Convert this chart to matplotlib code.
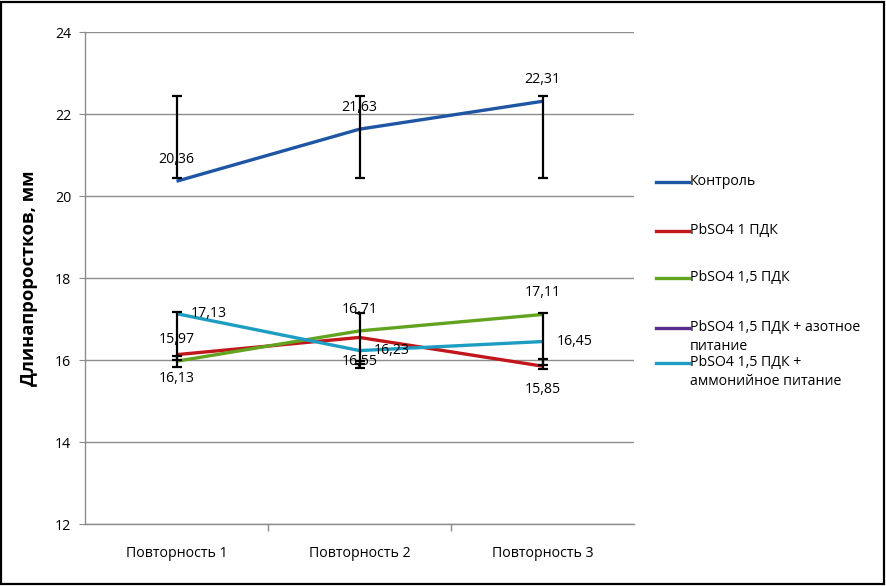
import matplotlib
matplotlib.use("Agg")
import matplotlib.pyplot as plt
from matplotlib.lines import Line2D
from matplotlib.patches import Rectangle
import numpy as np

plt.rcParams['font.family'] = ['Open Sans', 'DejaVu Sans']

categories = ["Повторность 1", "Повторность 2", "Повторность 3"]
series_names = ["Контроль", "PbSO4 1 ПДК", "PbSO4 1,5 ПДК",
                "PbSO4 1,5 ПДК + азотное\nпитание",
                "PbSO4 1,5 ПДК +\nаммонийное питание"]
control = [20.36, 21.63, 22.31]
pb1 = [16.13, 16.55, 15.85]
pb15 = [15.97, 16.71, 17.11]
pb15_n = []  # not visible on the chart
pb15_nh4 = [17.13, 16.23, 16.45]

control_err_low = [20.45, 20.45, 20.45]
control_err_high = [22.44, 22.44, 22.44]
group_err_low = [15.82, 15.80, 15.78]
group_err_high = [17.17, 17.15, 17.14]
group_err2_low = [16.00, 15.90, 15.88]
group_err2_high = [16.10, 15.98, 16.02]

colors = ["#1F56A4", "#C2161B", "#62A320", "#5A2D8C", "#1E9DC2"]

FS = 10.2

fig = plt.figure(figsize=(8.86, 5.86), dpi=100)
W, H = 886, 586
ax = fig.add_axes([85 / W, 1 - 524 / H, (634 - 85) / W, (524 - 32) / H])

x = np.arange(len(categories))

def errbars(vals_low, vals_high):
    lo = np.array(vals_low); hi = np.array(vals_high)
    mid = (lo + hi) / 2
    ax.errorbar(x, mid, yerr=[mid - lo, hi - mid], fmt='none', ecolor='black',
                elinewidth=1.6, capsize=3.5, capthick=1.6, zorder=4)

errbars(control_err_low, control_err_high)
errbars(group_err_low, group_err_high)
errbars(group_err2_low, group_err2_high)

data = [control, pb1, pb15, pb15_n, pb15_nh4]
for vals, c, name in zip(data, colors, series_names):
    if len(vals):
        ax.plot(x[:len(vals)], vals, color=c, lw=2.4, zorder=3, solid_capstyle='butt')

def fmt(v):
    return f"{v:.2f}".replace('.', ',')

label_specs = [
    (control, 'above'), (pb1, 'below'), (pb15, 'above'), (pb15_nh4, 'right')
]
for vals, pos in label_specs:
    for xi, v in zip(x, vals):
        if pos == 'above':
            ax.annotate(fmt(v), (xi, v), xytext=(0, 15.5), textcoords='offset points',
                        ha='center', va='center', fontsize=FS, zorder=5)
        elif pos == 'below':
            ax.annotate(fmt(v), (xi, v), xytext=(0, -17), textcoords='offset points',
                        ha='center', va='center', fontsize=FS, zorder=5)
        else:
            ax.annotate(fmt(v), (xi, v), xytext=(10, 0), textcoords='offset points',
                        ha='left', va='center', fontsize=FS, zorder=5)

ax.set_xlim(-0.5, 2.5)
ax.set_ylim(12, 24)
ax.set_yticks(np.arange(12, 25, 2))
ax.set_xticks(x)
ax.set_xticklabels(categories, fontsize=FS)
ax.set_xticks([0.5, 1.5], minor=True)
ax.tick_params(axis='x', which='major', length=0, pad=16)
ax.tick_params(axis='x', which='minor', length=5, color='#8c8c8c', width=1)
ax.tick_params(axis='y', length=4, color='#8c8c8c', labelsize=FS, pad=6)
ax.grid(axis='y', color='#8c8c8c', lw=1)
ax.set_axisbelow(True)
for s in ['top', 'right']:
    ax.spines[s].set_visible(False)
for s in ['left', 'bottom']:
    ax.spines[s].set_color('#8c8c8c')
    ax.spines[s].set_linewidth(1)
ax.set_ylabel("Длинапроростков, мм", fontsize=13.2, fontweight='bold', labelpad=12)

legend_y = [182, 231, 278, 328, 363]
for name, c, ly in zip(series_names, colors, legend_y):
    fy = 1 - ly / H
    fig.add_artist(Line2D([656 / W, 689 / W], [fy, fy], color=c, lw=2.4))
    fig.text(690 / W, 1 - (ly - 8) / H, name, fontsize=FS, ha='left', va='top',
             linespacing=1.35)

fig.add_artist(Rectangle((1 / W, 2 / H), (W - 3) / W, (H - 4) / H, transform=fig.transFigure,
                         fill=False, edgecolor='black', lw=1.6))

fig.savefig("out.png", dpi=100)
